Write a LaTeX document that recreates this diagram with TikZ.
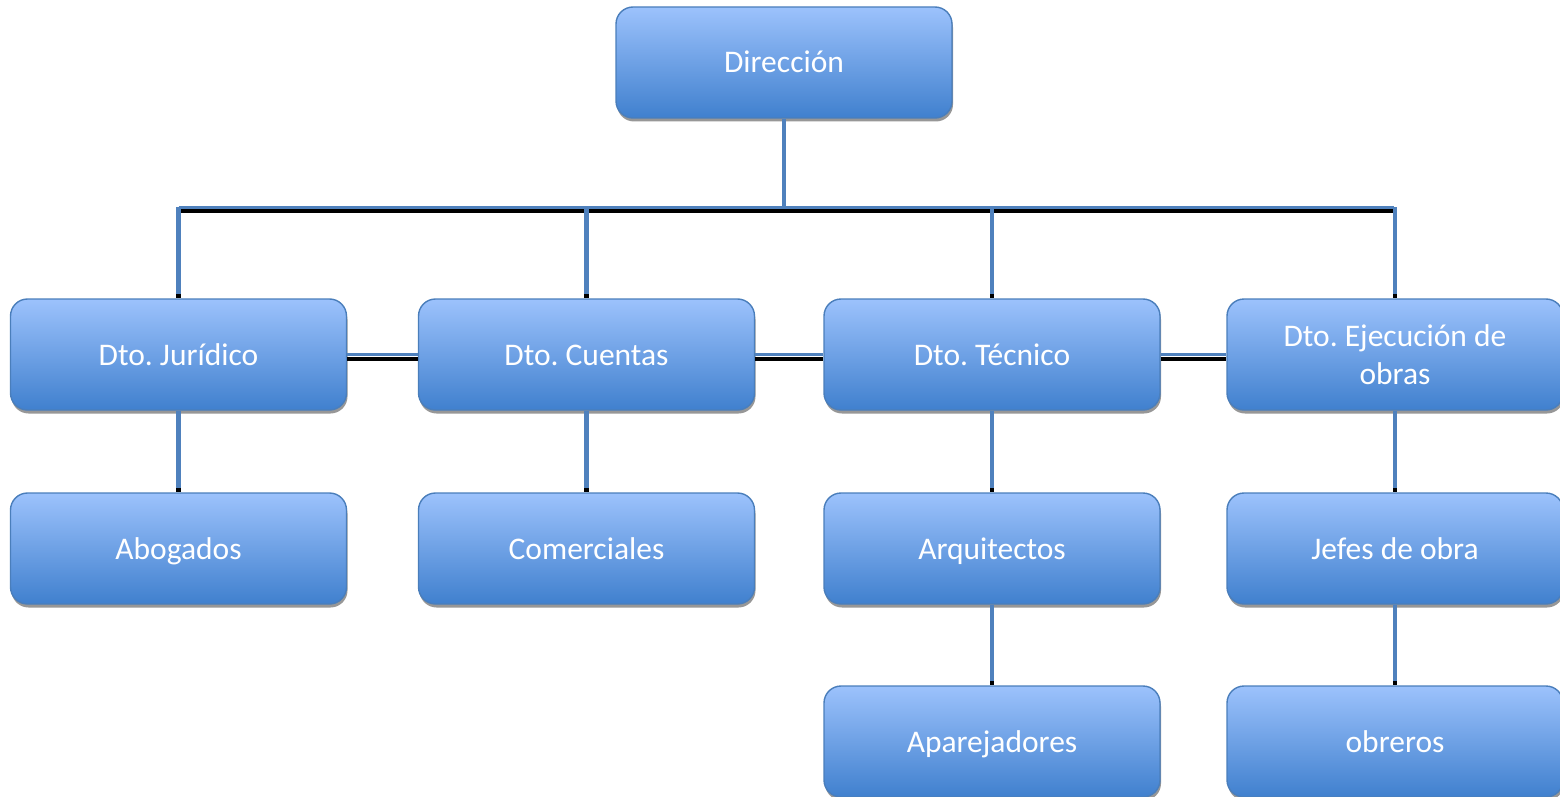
\documentclass[tikz,border=0pt]{standalone}
\usepackage{fontspec}
\setmainfont{Carlito}
\usetikzlibrary{shadows,calc}
\definecolor{linkblue}{RGB}{79,129,189}
\definecolor{boxborder}{RGB}{74,126,187}
\definecolor{boxtop}{RGB}{156,194,252}
\definecolor{boxbot}{RGB}{64,128,206}
\tikzset{
  orgbase/.style={rectangle, rounded corners=17pt, draw=boxborder, line width=1.4pt,
    top color=boxtop, bottom color=boxbot, minimum width=336pt, minimum height=111pt,
    inner sep=0pt, text=white, align=center,
    font=\fontsize{31.5}{38}\selectfont\frenchspacing,
    drop shadow={shadow xshift=1pt, shadow yshift=-3.5pt, fill=black!45, opacity=0.9}},
  orgbox/.style={orgbase, text height=24pt, text depth=3pt},
  bluelink/.style={draw=linkblue, line width=4.5pt},
  blacklink/.style={draw=black, line width=4pt},
  tiplink/.style={draw=black, line width=4.5pt}
}
\begin{document}
\begin{tikzpicture}[x=1pt,y=-1pt]
\useasboundingbox (0,0) rectangle (1560,797);
% boxes
\node[orgbox] (dir) at (784,62.5) {Dirección};
\node[orgbox] (jur) at (178.5,354.5) {Dto. Jurídico};
\node[orgbox] (cue) at (586.5,354.5) {Dto. Cuentas};
\node[orgbox] (tec) at (992,354.5) {Dto. Técnico};
\node[orgbase] (eje) at (1395,354.5) {Dto. Ejecución de\\obras};
\node[orgbox] (abo) at (178.5,548.5) {Abogados};
\node[orgbox] (com) at (586.5,548.5) {Comerciales};
\node[orgbox] (arq) at (992,548.5) {Arquitectos};
\node[orgbox] (jef) at (1395,548.5) {Jefes de obra};
\node[orgbox] (apa) at (992,741.5) {Aparejadores};
\node[orgbox] (obr) at (1395,741.5) {obreros};
% bus coordinates
\coordinate (busL) at (178.5,207);
\coordinate (busR) at (1394,207);
% vertical from Dirección to the bus
\draw[bluelink] (dir.south) -- (dir.south |- busL);
% bus (blue over black)
\draw[blacklink] ($(busL)+(0,4)$) -- ($(busR)+(0,4)$);
\draw[bluelink, line width=3pt] (busL) -- (busR);
% verticals from bus to row 2
\foreach \n in {jur,cue,tec,eje}{
  \draw[bluelink] (\n.north |- busL) -- (\n.north);
  \draw[tiplink] ($(\n.north)+(0,-4)$) -- (\n.north);
}
% horizontal connectors between row 2 boxes
\foreach \a/\b in {jur/cue,cue/tec,tec/eje}{
  \draw[blacklink] ($(\a.east)+(0,4)$) -- ($(\b.west)+(0,4)$);
  \draw[bluelink, line width=3.5pt] (\a.east) -- (\b.west);
}
% lower verticals
\foreach \a/\b in {jur/abo,cue/com,tec/arq,eje/jef,arq/apa,jef/obr}{
  \draw[bluelink] (\a.south) -- (\b.north);
  \draw[tiplink] ($(\b.north)+(0,-4)$) -- (\b.north);
}
\end{tikzpicture}
\end{document}
